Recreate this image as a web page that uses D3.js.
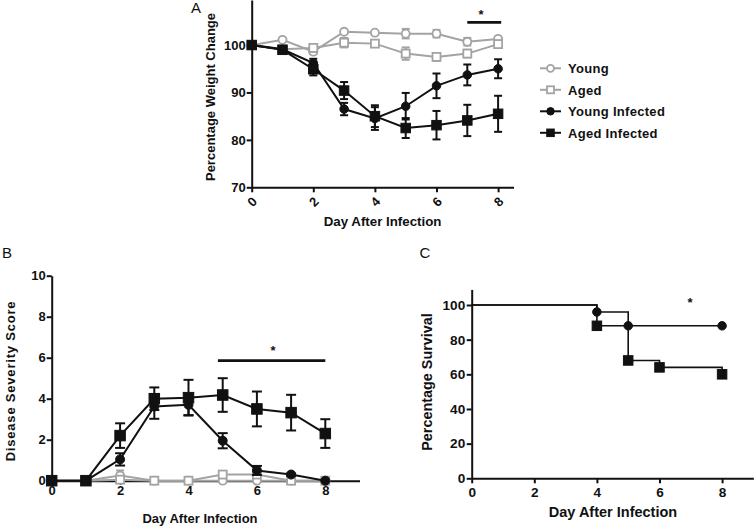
<!DOCTYPE html>
<html><head><meta charset="utf-8">
<script src="https://cdn.jsdelivr.net/npm/d3@7"></script>
<style>
body{margin:0;background:#fff;}
svg{display:block;font-family:"Liberation Sans",Arial,sans-serif;}
.tick text{font-weight:bold;fill:#111;}
</style></head>
<body>
<svg id="c" width="756" height="532"></svg>
<script>
// ---------- data ----------
const days = [0,1,2,3,4,5,6,7,8];
const seriesNames = ["Young","Aged","Young Infected","Aged Infected"];
// Panel A: percentage weight change
const weightYoung     = [100,101.1,98.6,102.8,102.6,102.4,102.4,100.7,101.3];
const weightYoungErr  = [0,0.2,0.5,0.4,0.3,1.0,0.8,0.8,0.5];
const weightAged      = [100,99.1,99.4,100.5,100.3,98.2,97.5,98.2,100.2];
const weightAgedErr   = [0,0.3,0.8,1.0,0.6,1.3,0.8,0.8,0.7];
const weightYInf      = [100,99.1,96.2,86.5,84.5,87.1,91.4,93.7,95.0];
const weightYInfErr   = [0,0.3,0.9,1.3,2.4,2.8,2.6,2.2,2.0];
const weightAInf      = [100,99.0,94.9,90.4,85.0,82.5,83.1,84.1,85.5];
const weightAInfErr   = [0,0.3,1.3,1.8,2.3,2.1,3.0,3.3,3.8];
const weightTicksY = [70,80,90,100];
const dayTicks = [0,2,4,6,8];
// Panel B: disease severity score
const scoreYoung    = [0,0,0.25,0,0,0,0,0,0];
const scoreYoungErr = [0,0,0.25,0,0,0,0,0,0];
const scoreAged     = [0,0,0.05,0,0,0.3,0.3,0,0];
const scoreAgedErr  = [0,0,0.1,0,0,0.15,0.15,0,0];
const scoreYInf     = [0,0,1.04,3.62,3.7,1.95,0.5,0.3,0];
const scoreYInfErr  = [0,0,0.3,0.6,0.5,0.37,0.22,0.05,0];
const scoreAInf     = [0,0,2.2,4.0,4.05,4.18,3.5,3.32,2.3];
const scoreAInfErr  = [0,0,0.6,0.55,0.87,0.82,0.85,0.87,0.7];
const scoreTicksY = [0,2,4,6,8,10];
// Panel C: survival (step points)
const survYInfDays = [0,4,5,8];
const survYInf     = [100,96,88,88];
const survAInfDays = [0,4,5,6,8];
const survAInf     = [100,88,68,64,60];
const survTicksY = [0,20,40,60,80,100];

// ---------- drawing ----------
const svg = d3.select("#c");
const GRAY = "#a3a3a3", BLACK = "#111";
const fontB = "'Liberation Sans',Arial,sans-serif";

function markers(g, type, pts, x, y, color, size, open){
  if(type==="circle"){
    g.selectAll(null).data(pts).join("circle")
      .attr("cx",d=>x(d[0])).attr("cy",d=>y(d[1])).attr("r",size/2)
      .attr("fill",open?"#fff":color).attr("stroke",color).attr("stroke-width",open?1.8:1);
  } else {
    g.selectAll(null).data(pts).join("rect")
      .attr("x",d=>x(d[0])-size/2).attr("y",d=>y(d[1])-size/2)
      .attr("width",size).attr("height",size)
      .attr("fill",open?"#fff":color).attr("stroke",color).attr("stroke-width",open?1.8:1);
  }
}
function series(g, xs, vals, errs, x, y, color, type, open, msize, cap, lw){
  const pts = xs.map((d,i)=>[d,vals[i],errs[i]]);
  const gg = g.append("g");
  gg.append("path").datum(pts)
    .attr("d",d3.line().x(d=>x(d[0])).y(d=>y(d[1])))
    .attr("fill","none").attr("stroke",color).attr("stroke-width",lw);
  const eb = gg.selectAll(null).data(pts.filter(d=>d[2]>0)).join("g")
    .attr("stroke",color).attr("stroke-width",lw);
  eb.append("line").attr("x1",d=>x(d[0])).attr("x2",d=>x(d[0]))
    .attr("y1",d=>y(d[1]-d[2])).attr("y2",d=>y(d[1]+d[2]));
  eb.append("line").attr("x1",d=>x(d[0])-cap/2).attr("x2",d=>x(d[0])+cap/2)
    .attr("y1",d=>y(d[1]+d[2])).attr("y2",d=>y(d[1]+d[2]));
  eb.append("line").attr("x1",d=>x(d[0])-cap/2).attr("x2",d=>x(d[0])+cap/2)
    .attr("y1",d=>y(d[1]-d[2])).attr("y2",d=>y(d[1]-d[2]));
  markers(gg, type, pts, x, y, color, msize, open);
}
function styleAxis(g, fs){
  g.selectAll(".domain").attr("stroke",BLACK).attr("stroke-width",2);
  g.selectAll(".tick line").attr("stroke",BLACK).attr("stroke-width",2);
  g.selectAll(".tick text").attr("font-size",fs).attr("font-family",fontB);
}
function label(txt, x, y, fs, opts={}){
  const t = svg.append("text").attr("x",x).attr("y",y).text(txt)
    .attr("font-size",fs).attr("fill",BLACK)
    .attr("font-weight",opts.normal?"normal":"bold")
    .attr("text-anchor",opts.anchor||"middle");
  if(opts.rotate) t.attr("transform",`rotate(-90,${x},${y})`);
  if(opts.ls) t.attr("letter-spacing",opts.ls);
  return t;
}

// ===== Panel A =====
{
  const x = d3.scaleLinear().domain([0,8.5]).range([251.7,513.5]);
  const y = d3.scaleLinear().domain([70,109.5]).range([187.3,0]);
  const gx = svg.append("g").attr("transform",`translate(0,${y(70)})`)
    .call(d3.axisBottom(x).tickValues(dayTicks).tickSize(5).tickSizeOuter(0));
  styleAxis(gx,13);
  gx.selectAll(".tick text").attr("y",0).attr("dy","0.35em")
    .attr("transform","translate(0,14.5) rotate(-45)");
  const gy = svg.append("g").attr("transform",`translate(${x(0)},0)`)
    .call(d3.axisLeft(y).tickValues(weightTicksY).tickSize(5).tickPadding(1).tickSizeOuter(0));
  styleAxis(gy,13);
  const g = svg.append("g");
  series(g, days, weightYoung, weightYoungErr, x, y, GRAY, "circle", true, 8, 8, 2);
  series(g, days, weightAged, weightAgedErr, x, y, GRAY, "square", true, 8, 8, 2);
  series(g, days, weightYInf, weightYInfErr, x, y, BLACK, "circle", false, 8.5, 8, 2);
  series(g, days, weightAInf, weightAInfErr, x, y, BLACK, "square", false, 9.5, 8, 2);
  // significance bar
  svg.append("line").attr("x1",x(7)).attr("x2",x(8.1)).attr("y1",22.3).attr("y2",22.3)
    .attr("stroke",BLACK).attr("stroke-width",2.8);
  label("*", 481, 19, 13);
  label("Day After Infection", (x(0)+x(8.5))/2, 225.5, 13.3);
  label("Percentage Weight Change", 214.7, 97, 13, {rotate:true});
  label("A", 196, 13, 15, {normal:true});

  // legend
  const lg = svg.append("g");
  const rows = [[GRAY,"circle",true],[GRAY,"square",true],[BLACK,"circle",false],[BLACK,"square",false]];
  rows.forEach((r,i)=>{
    const yy = 68.3 + i*21.5;
    lg.append("line").attr("x1",540).attr("x2",561).attr("y1",yy).attr("y2",yy)
      .attr("stroke",r[0]).attr("stroke-width",2);
    const idx = d3.scaleLinear().domain([0,1]).range([550.5,551.5]);
    const idy = d3.scaleLinear().domain([0,1]).range([yy,yy+1]);
    markers(lg, r[1], [[0,0]], idx, idy, r[0], r[2]?7:7.5, r[2]);
    lg.append("text").attr("x",568).attr("y",yy+4.7).text(seriesNames[i])
      .attr("font-size",13).attr("font-weight","bold").attr("fill",BLACK)
      .attr("letter-spacing",0.3);
  });
}

// ===== Panel B =====
{
  const x = d3.scaleLinear().domain([0,9]).range([51.7,359.5]);
  const y = d3.scaleLinear().domain([0,10]).range([480.7,275.7]);
  const gx = svg.append("g").attr("transform",`translate(0,${y(0)})`)
    .call(d3.axisBottom(x).tickValues(dayTicks).tickSize(4).tickPadding(1).tickSizeOuter(0));
  styleAxis(gx,13);
  const gy = svg.append("g").attr("transform",`translate(${x(0)},0)`)
    .call(d3.axisLeft(y).tickValues(scoreTicksY).tickSize(5).tickPadding(1).tickSizeOuter(0));
  styleAxis(gy,13);
  const g = svg.append("g");
  series(g, days, scoreYoung, scoreYoungErr, x, y, GRAY, "circle", true, 8, 8, 2);
  series(g, days, scoreAged, scoreAgedErr, x, y, GRAY, "square", true, 8, 8, 2);
  series(g, days, scoreYInf, scoreYInfErr, x, y, BLACK, "circle", false, 9, 10, 2);
  series(g, days, scoreAInf, scoreAInfErr, x, y, BLACK, "square", false, 10.5, 10, 2);
  svg.append("line").attr("x1",x(4.86)).attr("x2",x(8)).attr("y1",y(5.86)).attr("y2",y(5.86))
    .attr("stroke",BLACK).attr("stroke-width",2.8);
  label("*", 273, 355, 13);
  label("Day After Infection", 200, 523, 13);
  label("Disease Severity Score", 14.7, 381, 13, {rotate:true, ls:0.8});
  label("B", 7, 258, 15, {normal:true});
}

// ===== Panel C =====
{
  const x = d3.scaleLinear().domain([0,9]).range([471.7,753.4]);
  const y = d3.scaleLinear().domain([0,109]).range([478.3,289.4]);
  const gx = svg.append("g").attr("transform",`translate(0,${y(0)})`)
    .call(d3.axisBottom(x).tickValues(dayTicks).tickSize(5).tickPadding(4).tickSizeOuter(0));
  styleAxis(gx,13.6);
  const gy = svg.append("g").attr("transform",`translate(${x(0)},0)`)
    .call(d3.axisLeft(y).tickValues(survTicksY).tickSize(5).tickPadding(1.5).tickSizeOuter(0));
  styleAxis(gy,13.6);
  const g = svg.append("g");
  const step = d3.line().x(d=>x(d[0])).y(d=>y(d[1])).curve(d3.curveStepAfter);
  const ptsY = survYInfDays.map((d,i)=>[d,survYInf[i]]);
  const ptsA = survAInfDays.map((d,i)=>[d,survAInf[i]]);
  g.append("path").datum(ptsA).attr("d",step).attr("fill","none").attr("stroke",BLACK).attr("stroke-width",1.6);
  g.append("path").datum(ptsY).attr("d",step).attr("fill","none").attr("stroke",BLACK).attr("stroke-width",1.6);
  markers(g,"square",ptsA.slice(1),x,y,BLACK,9.5,false);
  markers(g,"circle",ptsY.slice(1),x,y,BLACK,8.5,false);
  label("*", 690, 307, 13);
  label("Day After Infection", 613, 517, 14.5);
  label("Percentage Survival", 431.7, 382, 14.4, {rotate:true});
  label("C", 425, 258, 15, {normal:true});
}
</script>
</body></html>
